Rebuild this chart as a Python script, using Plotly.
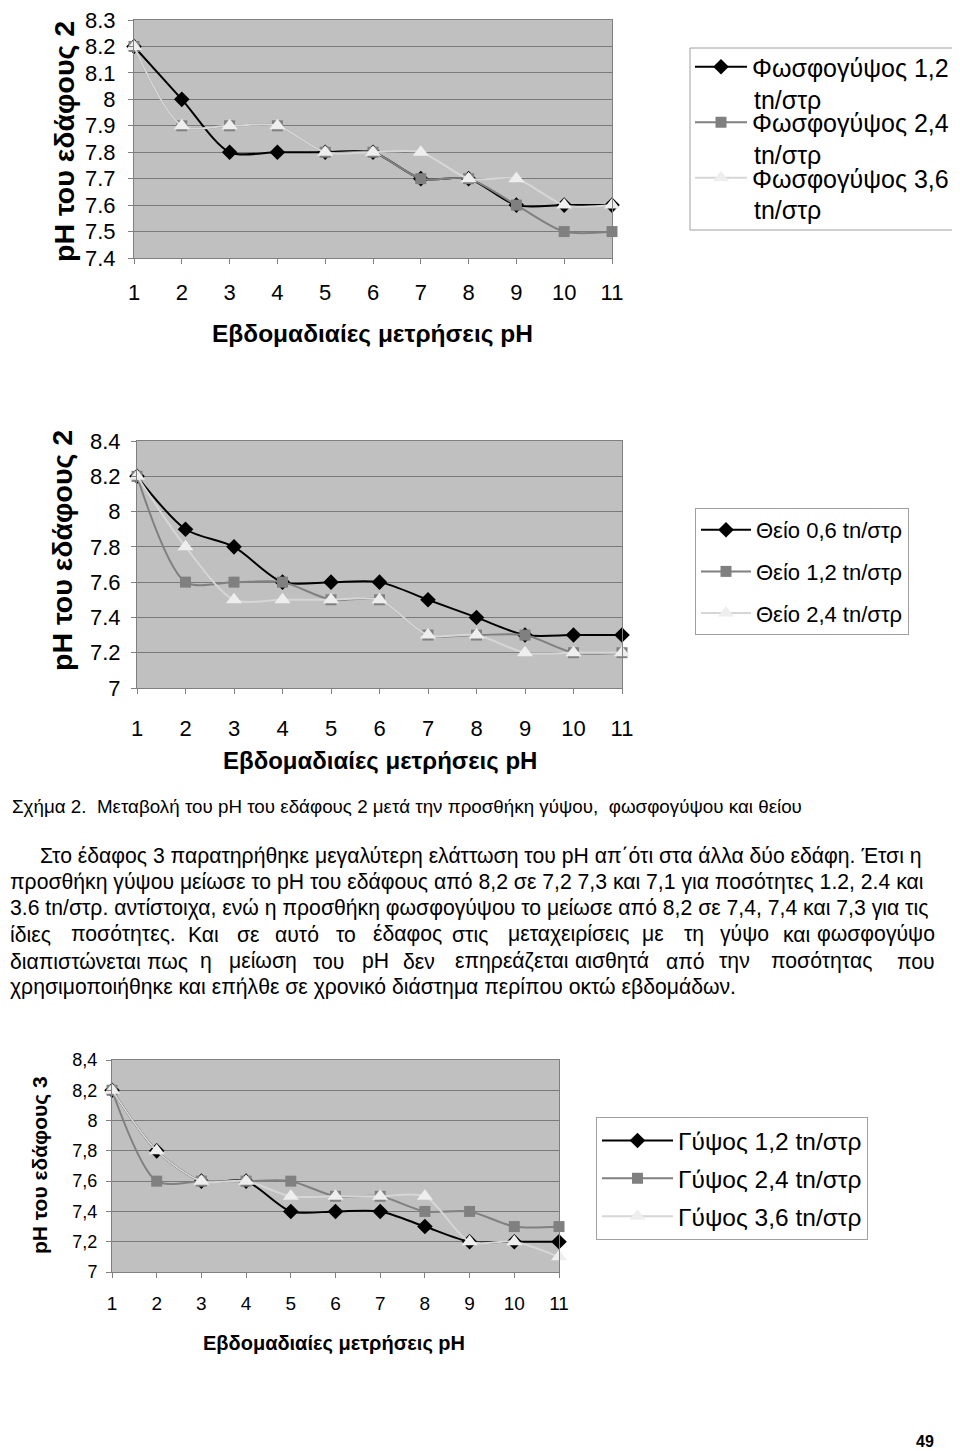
import plotly.graph_objects as go

W, H = 960, 1451
FONT = "Liberation Sans, Arial, sans-serif"
OFF = 8  # page body margin in the viewer

weeks = list(range(1, 12))

# ---- Chart 1: phosphogypsum, soil 2
phos_names = ["Φωσφογύψος 1,2", "Φωσφογύψος 2,4", "Φωσφογύψος 3,6"]
phos_unit = "tn/στρ"
phos_12 = [8.2, 8.0, 7.8, 7.8, 7.8, 7.8, 7.7, 7.7, 7.6, 7.6, 7.6]
phos_24 = [8.2, 7.9, 7.9, 7.9, 7.8, 7.8, 7.7, 7.7, 7.6, 7.5, 7.5]
phos_36 = [8.2, 7.9, 7.9, 7.9, 7.8, 7.8, 7.8, 7.7, 7.7, 7.6, 7.6]
phos_yticks = [7.4, 7.5, 7.6, 7.7, 7.8, 7.9, 8.0, 8.1, 8.2, 8.3]
phos_yticktext = ["7.4", "7.5", "7.6", "7.7", "7.8", "7.9", "8", "8.1", "8.2", "8.3"]

# ---- Chart 2: sulphur, soil 2
sulf_names = ["Θείο 0,6 tn/στρ", "Θείο 1,2 tn/στρ", "Θείο 2,4 tn/στρ"]
sulf_06 = [8.2, 7.9, 7.8, 7.6, 7.6, 7.6, 7.5, 7.4, 7.3, 7.3, 7.3]
sulf_12 = [8.2, 7.6, 7.6, 7.6, 7.5, 7.5, 7.3, 7.3, 7.3, 7.2, 7.2]
sulf_24 = [8.2, 7.8, 7.5, 7.5, 7.5, 7.5, 7.3, 7.3, 7.2, 7.2, 7.2]
sulf_yticks = [7.0, 7.2, 7.4, 7.6, 7.8, 8.0, 8.2, 8.4]
sulf_yticktext = ["7", "7.2", "7.4", "7.6", "7.8", "8", "8.2", "8.4"]

# ---- Chart 3: gypsum, soil 3
gyps_names = ["Γύψος 1,2 tn/στρ", "Γύψος 2,4 tn/στρ", "Γύψος 3,6 tn/στρ"]
gyps_12 = [8.2, 7.8, 7.6, 7.6, 7.4, 7.4, 7.4, 7.3, 7.2, 7.2, 7.2]
gyps_24 = [8.2, 7.6, 7.6, 7.6, 7.6, 7.5, 7.5, 7.4, 7.4, 7.3, 7.3]
gyps_36 = [8.2, 7.8, 7.6, 7.6, 7.5, 7.5, 7.5, 7.5, 7.2, 7.2, 7.1]
gyps_yticks = [7.0, 7.2, 7.4, 7.6, 7.8, 8.0, 8.2, 8.4]
gyps_yticktext = ["7", "7,2", "7,4", "7,6", "7,8", "8", "8,2", "8,4"]

x_title = "Εβδομαδιαίες μετρήσεις pH"
y_title_2 = "pH του εδάφους 2"
y_title_3 = "pH του εδάφους 3"

caption = "Σχήμα 2.  Μεταβολή του pH του εδάφους 2 μετά την προσθήκη γύψου,  φωσφογύψου και θείου"
para_full_lines = [
    "Στο έδαφος 3 παρατηρήθηκε μεγαλύτερη ελάττωση του pH απ΄ότι στα άλλα δύο εδάφη. Έτσι η",
    "προσθήκη γύψου μείωσε το pH του εδάφους από 8,2 σε 7,2 7,3 και 7,1 για ποσότητες 1.2, 2.4 και",
    "3.6 tn/στρ. αντίστοιχα, ενώ η προσθήκη φωσφογύψου το μείωσε από 8,2 σε 7,4, 7,4 και 7,3 για τις",
]
para_line4 = ["ίδιες", "ποσότητες.", "Και", "σε", "αυτό", "το", "έδαφος", "στις",
              "μεταχειρίσεις", "με", "τη", "γύψο", "και", "φωσφογύψο"]
para_line5 = ["διαπιστώνεται", "πως", "η", "μείωση", "του", "pH", "δεν", "επηρεάζεται",
              "αισθητά", "από", "την", "ποσότητας", "που"]
para_last = "χρησιμοποιήθηκε και επήλθε σε χρονικό διάστημα περίπου οκτώ εβδομάδων."
page_number = "49"

# word start positions (layout, px) for the two justified lines
line4_x = [8, 69, 186, 235, 273, 334, 371, 450, 506, 640, 682, 718, 781, 937]
line5_x = [8, 145, 198, 227, 311, 360, 401, 453, 573, 664, 717, 769, 937]

def px(x):
    return (x - OFF) / W

def py(y):
    return 1 - (y - OFF) / H

styles = [
    dict(color="#000000", symbol="diamond", size=12, mcolor="#000000"),
    dict(color="#808080", symbol="square", size=11, mcolor="#808080"),
    dict(color="#d6d6d6", symbol="triangle-up", size=14, mcolor="#eeeeee"),
]

fig = go.Figure()

charts = [
    dict(series=[phos_12, phos_24, phos_36], names=phos_names, xa="x", ya="y", legend="legend"),
    dict(series=[sulf_06, sulf_12, sulf_24], names=sulf_names, xa="x2", ya="y2", legend="legend2"),
    dict(series=[gyps_12, gyps_24, gyps_36], names=gyps_names, xa="x3", ya="y3", legend="legend3"),
]

for ci, ch in enumerate(charts):
    for si, (vals, name) in enumerate(zip(ch["series"], ch["names"])):
        st = styles[si]
        fig.add_trace(go.Scatter(
            x=weeks, y=vals, name=name, mode="lines+markers",
            line=dict(color=st["color"], width=2, shape="spline", smoothing=0.8),
            marker=dict(symbol=st["symbol"], size=st["size"], color=st["mcolor"],
                        line=dict(width=0)),
            xaxis=ch["xa"], yaxis=ch["ya"], legend=ch["legend"],
            legendgroup=f"g{ci}{si}", cliponaxis=False,
        ))

def xaxis_cfg(x0, x1, fs, standoff, anchor):
    return dict(domain=[px(x0), px(x1)], range=[1, 11], tickvals=weeks, anchor=anchor,
                ticks="outside", ticklen=5, tickcolor="#808080", automargin=False,
                showline=True, linecolor="#808080", linewidth=1, mirror=True,
                showgrid=False, zeroline=False, fixedrange=True,
                tickfont=dict(family=FONT, size=fs, color="#000000"),
                ticklabelstandoff=standoff, ticklabeloverflow="allow")

def yaxis_cfg(y0, y1, rng, tv, tt, fs, standoff, anchor):
    return dict(domain=[py(y1), py(y0)], range=rng, tickvals=tv, ticktext=tt, anchor=anchor,
                ticks="outside", ticklen=5, tickcolor="#808080", automargin=False,
                showline=True, linecolor="#808080", linewidth=1, mirror=True,
                showgrid=True, gridcolor="#7a7a7a", gridwidth=1, zeroline=False,
                tickfont=dict(family=FONT, size=fs, color="#000000"),
                ticklabelstandoff=standoff, ticklabeloverflow="allow")

fig.update_layout(
    width=W, height=H, autosize=False,
    margin=dict(l=0, r=0, t=0, b=0, pad=0),
    paper_bgcolor="white", plot_bgcolor="#c0c0c0",
    font=dict(family=FONT, color="#000000"),
    xaxis=xaxis_cfg(134, 612, 22, 10, "y"),
    yaxis=yaxis_cfg(20, 258, [7.4, 8.3], phos_yticks, phos_yticktext, 22, 8, "x"),
    xaxis2=xaxis_cfg(137, 622, 22, 16, "y2"),
    yaxis2=yaxis_cfg(441, 688, [7.0, 8.4], sulf_yticks, sulf_yticktext, 22, 6, "x2"),
    xaxis3=xaxis_cfg(112, 559, 19, 9, "y3"),
    yaxis3=yaxis_cfg(1060, 1272, [7.0, 8.4], gyps_yticks, gyps_yticktext, 18, 5, "x3"),
    legend=dict(x=px(690), y=py(44), xanchor="left", yanchor="top", itemwidth=52,
                font=dict(family=FONT, size=25), borderwidth=0,
                bgcolor="rgba(0,0,0,0)", tracegroupgap=20),
    legend2=dict(x=px(695), y=py(508), xanchor="left", yanchor="top", itemwidth=50,
                 font=dict(family=FONT, size=22), bordercolor="#a0a0a0", borderwidth=1,
                 bgcolor="white", tracegroupgap=10),
    legend3=dict(x=px(596), y=py(1117), xanchor="left", yanchor="top", itemwidth=71,
                 font=dict(family=FONT, size=24.5), bordercolor="#a0a0a0", borderwidth=1,
                 bgcolor="white", tracegroupgap=3),
    showlegend=True,
    shapes=[dict(type="rect", xref="paper", yref="paper", x0=px(690), x1=px(955),
                 y0=py(230), y1=py(48), line=dict(color="#a0a0a0", width=1),
                 fillcolor="rgba(0,0,0,0)", layer="above")],
)

ann = []
# axis titles
ann.append(dict(x=px(372), y=py(333), text="<b>" + x_title + "</b>", font=dict(size=24.5)))
ann.append(dict(x=px(64), y=py(142), text="<b>" + y_title_2 + "</b>", textangle=-90, font=dict(size=28.5)))
ann.append(dict(x=px(380), y=py(760), text="<b>" + x_title + "</b>", font=dict(size=24)))
ann.append(dict(x=px(62), y=py(551), text="<b>" + y_title_2 + "</b>", textangle=-90, font=dict(size=28.5)))
ann.append(dict(x=px(334), y=py(1343), text="<b>" + x_title + "</b>", font=dict(size=20)))
ann.append(dict(x=px(40), y=py(1165), text="<b>" + y_title_3 + "</b>", textangle=-90, font=dict(size=21)))
for a in ann:
    a.update(xref="paper", yref="paper", showarrow=False, xanchor="center", yanchor="middle")

# second lines of legend 1 entries
for yy in [100, 155, 210]:
    ann.append(dict(x=px(752), y=py(yy), text=phos_unit, xref="paper", yref="paper", showarrow=False,
                    xanchor="left", yanchor="middle", font=dict(size=25)))

PFS = 21.2
texts = [dict(x=px(10), y=py(806), text=caption, font=dict(size=18.8), xanchor="left")]
for t, yy, xx in zip(para_full_lines, [856, 882, 908], [38, 8, 8]):
    texts.append(dict(x=px(xx), y=py(yy), text=t, font=dict(size=PFS), xanchor="left"))
for words, xs, yy in [(para_line4, line4_x, 934), (para_line5, line5_x, 961)]:
    for i, (wd, xx) in enumerate(zip(words, xs)):
        texts.append(dict(x=px(xx), y=py(yy), text=wd, font=dict(size=PFS),
                          xanchor="right" if i == len(words) - 1 else "left"))
texts.append(dict(x=px(8), y=py(987), text=para_last, font=dict(size=PFS), xanchor="left"))
for a in texts:
    a.update(xref="paper", yref="paper", showarrow=False, yanchor="middle")
ann.extend(texts)
ann.append(dict(x=px(936), y=py(1441), text="<b>" + page_number + "</b>", xref="paper", yref="paper",
                showarrow=False, xanchor="right", yanchor="middle", font=dict(size=16)))

fig.update_layout(annotations=ann)
fig.write_html("out.html")
